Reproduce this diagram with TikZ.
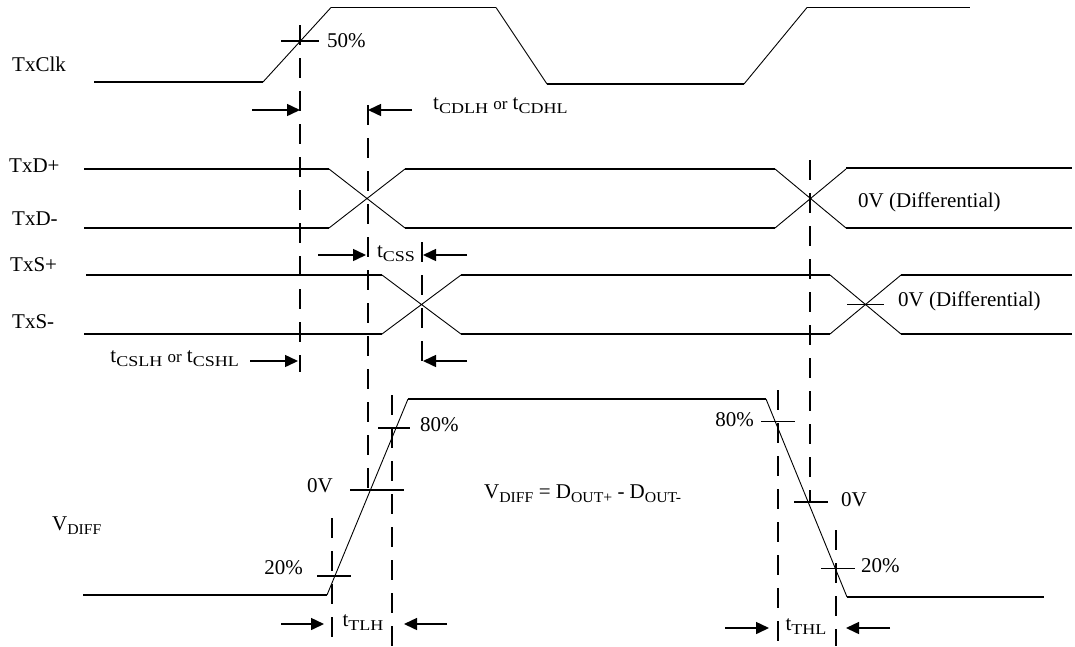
\documentclass[tikz,border=0pt]{standalone}
\usepackage{graphicx}
\usepackage{fontspec}
\setmainfont{Liberation Serif}
\usetikzlibrary{arrows.meta}
\newcommand{\lowtxt}[2][1.2]{\raisebox{-4pt}{\scalebox{#1}[1]{\fontsize{15}{18}\selectfont #2}}}
\newcommand{\ortxt}{{\fontsize{17}{20}\selectfont or}}

\begin{document}
\begin{tikzpicture}[x=1pt, y=-1pt, >={Triangle[length=13pt,width=12pt]},
    sig/.style={line width=1.7pt},
    slope/.style={line width=0.9pt},
    guide/.style={line width=1.6pt, dash pattern=on 20pt off 13pt},
    tick/.style={line width=1.5pt},
    dim/.style={->, line width=1.5pt},
    lbl/.style={inner sep=0pt, font=\fontsize{21}{25}\selectfont}]
        \useasboundingbox (0,0) rectangle (1075,646);

        % TxClk
        \draw[sig] (94,82) -- (263,82);
        \draw[slope] (263,82) -- (331,7.5);
        \draw[sig] (331,7.5) -- (496,7.5);
        \draw[slope] (496,7.5) -- (547,84);
        \draw[sig] (547,84) -- (744,84);
        \draw[slope] (744,84) -- (807,7.5);
        \draw[sig] (807,7.5) -- (970,7.5);

        % TxD+ / TxD-
        \draw[sig] (84,169) -- (329,169) (84,228) -- (329,228);
        \draw[slope] (329,169) -- (405,228) (329,228) -- (405,169);
        \draw[sig] (405,169) -- (775,169) (405,228) -- (775,228);
        \draw[slope] (775,169) -- (846,228) (775,228) -- (846,169);
        \draw[sig] (846,168) -- (1072,168) (846,228) -- (1072,228);

        % TxS+ / TxS-
        \draw[sig] (86,275) -- (382,275) (84,334) -- (382,334);
        \draw[slope] (382,275) -- (461,334) (382,334) -- (461,275);
        \draw[sig] (461,275) -- (830,275) (461,334) -- (830,334);
        \draw[slope] (830,275) -- (901,334) (830,334) -- (901,275);
        \draw[sig] (901,275) -- (1072,275) (901,334) -- (1072,334);

        % VDIFF
        \draw[sig] (83,595) -- (327,595);
        \draw[slope] (327,595) -- (408,399);
        \draw[sig] (408,399) -- (766,399);
        \draw[slope] (766,399) -- (847,597);
        \draw[sig] (847,597) -- (1044,597);

        \foreach \x/\a/\b in {300/25/372, 368/105/489, 422/242/371, 810/160/502,
                              332/518/646, 392/395/646, 778/390/646, 836/530/646}
            \draw[guide] (\x,\a) -- (\x,\b);

        \draw[tick] (281,41) -- (319,41);
        \draw[tick] (847,304.5) -- (884,304.5);
        \draw[tick] (378,428) -- (410,428);
        \draw[tick] (350,490) -- (404,490);
        \draw[tick] (317,576) -- (351,576);
        \draw[tick] (761,421.5) -- (795,421.5);
        \draw[tick] (794,502) -- (828,502);
        \draw[tick] (821,568.5) -- (855,568.5);

        \draw[dim] (252,110) -- (300,110);
        \draw[dim] (412,110) -- (368,110);
        \draw[dim] (318,255) -- (366,255);
        \draw[dim] (467,255) -- (423,255);
        \draw[dim] (250,361) -- (298,361);
        \draw[dim] (467,361) -- (423,361);
        \draw[dim] (281,624) -- (324,624);
        \draw[dim] (447,624) -- (404,624);
        \draw[dim] (725,628) -- (769,628);
        \draw[dim] (890,628) -- (846,628);

        \node[lbl, anchor=west] (clk) at (12,64) {TxClk};
        \node[lbl, anchor=west] (dp) at (9,166) {TxD+};
        \node[lbl, anchor=west] (dm) at (12,219) {TxD-};
        \node[lbl, anchor=west] (sp) at (10,265) {TxS+};
        \node[lbl, anchor=west] (sm) at (12,322) {TxS-};
        \node[lbl, anchor=west] (vd) at (52,526) {V\lowtxt[1.05]{DIFF}};
        \node[lbl, anchor=west] (p50) at (327,41) {50\%};
        \node[lbl, anchor=west] (cdlh) at (433,106) {t\lowtxt{CDLH} \ortxt{} t\lowtxt{CDHL}};
        \node[lbl, anchor=west] (dz) at (858,202) {0V (Differential)};
        \node[lbl] (css) at (396,254) {t\lowtxt{CSS}};
        \node[lbl, anchor=east] (cslh) at (239,359) {t\lowtxt{CSLH} \ortxt{} t\lowtxt{CSHL}};
        \node[lbl, anchor=west] (sz) at (898,301) {0V (Differential)};
        \node[lbl, anchor=west] (l80) at (420,425) {80\%};
        \node[lbl, anchor=east] (l0) at (333,486) {0V};
        \node[lbl, anchor=east] (l20) at (303,568) {20\%};
        \node[lbl, anchor=west] (eq) at (484,494) {V\lowtxt[1.05]{DIFF} = D\lowtxt[1.05]{OUT+} - D\lowtxt[1.05]{OUT-}};
        \node[lbl, anchor=east] (r80) at (754,420) {80\%};
        \node[lbl, anchor=west] (r0) at (841,500) {0V};
        \node[lbl, anchor=west] (r20) at (861,566) {20\%};
        \node[lbl] (tlh) at (363,623) {t\lowtxt{TLH}};
        \node[lbl] (thl) at (806,627) {t\lowtxt{THL}};
\end{tikzpicture}
\end{document}
